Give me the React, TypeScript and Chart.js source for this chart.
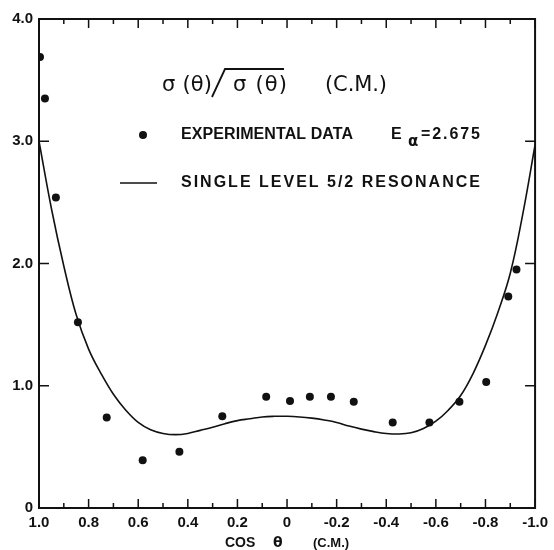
import React, { useEffect, useRef } from "react";
import { Chart, registerables } from "chart.js";

Chart.register(...registerables);

// Experimental data points (cos θ, σ(θ)/σ̄)
const expCos = [0.996, 0.976, 0.932, 0.843, 0.727, 0.582, 0.434, 0.261, 0.084, -0.012, -0.092, -0.177, -0.269, -0.426, -0.574, -0.695, -0.803, -0.892, -0.925];
const expVal = [3.69, 3.35, 2.54, 1.52, 0.74, 0.39, 0.46, 0.75, 0.91, 0.875, 0.91, 0.91, 0.87, 0.70, 0.70, 0.87, 1.03, 1.73, 1.95];

// Single level 5/2 resonance curve
const curveCos = [1.0, 0.95, 0.9, 0.85, 0.8, 0.75, 0.7, 0.65, 0.6, 0.55, 0.5, 0.45, 0.4, 0.35, 0.3, 0.25, 0.2, 0.15, 0.1, 0.05, 0.0, -0.05, -0.1, -0.15, -0.2, -0.25, -0.3, -0.35, -0.4, -0.45, -0.5, -0.55, -0.6, -0.65, -0.7, -0.75, -0.8, -0.85, -0.9, -0.95, -1.0];
const curveVal = [3.0, 2.45, 1.98, 1.58, 1.30, 1.10, 0.93, 0.80, 0.70, 0.64, 0.61, 0.60, 0.61, 0.635, 0.66, 0.69, 0.715, 0.73, 0.745, 0.75, 0.75, 0.745, 0.735, 0.72, 0.70, 0.67, 0.645, 0.625, 0.61, 0.605, 0.615, 0.65, 0.71, 0.80, 0.92, 1.10, 1.33, 1.60, 1.92, 2.40, 2.97];

const xMajorTicks = [1.0, 0.8, 0.6, 0.4, 0.2, 0.0, -0.2, -0.4, -0.6, -0.8, -1.0];
const xMinorTicks = [0.9, 0.7, 0.5, 0.3, 0.1, -0.1, -0.3, -0.5, -0.7, -0.9];
const yMajorTicks = [1, 2, 3];

const titleLeft = "σ (θ)";
const titleRight = "σ (θ)";
const titleUnit = "(C.M.)";
const legendExp = "EXPERIMENTAL DATA";
const legendEnergy = "=2.675";
const legendLine = "SINGLE LEVEL 5/2 RESONANCE";
const xTitle = ["COS", "θ", "(C.M.)"];

const INK = "#111";

function fitText(ctx: CanvasRenderingContext2D, text: string, x: number, y: number, targetW: number) {
  (ctx as any).letterSpacing = "0px";
  const w = ctx.measureText(text).width;
  const n = Math.max(text.length - 1, 1);
  const ls = (targetW - w) / n;
  (ctx as any).letterSpacing = ls.toFixed(2) + "px";
  ctx.fillText(text, x, y);
  (ctx as any).letterSpacing = "0px";
}

const decorPlugin = {
  id: "decor",
  beforeDraw(chart: any) {
    const ctx = chart.ctx;
    ctx.save();
    ctx.fillStyle = "#fff";
    ctx.fillRect(0, 0, chart.width, chart.height);
    ctx.restore();
  },
  afterDraw(chart: any) {
    const ctx: CanvasRenderingContext2D = chart.ctx;
    const { left, right, top, bottom } = chart.chartArea;
    const xs = chart.scales.x;
    const ys = chart.scales.y;
    ctx.save();
    ctx.strokeStyle = INK;
    ctx.fillStyle = INK;
    // frame
    ctx.lineWidth = 2;
    ctx.strokeRect(left, top, right - left, bottom - top);
    // x ticks, bottom and top, inward
    ctx.lineWidth = 1.5;
    const drawX = (v: number, len: number) => {
      const px = xs.getPixelForValue(v);
      ctx.beginPath();
      ctx.moveTo(px, bottom);
      ctx.lineTo(px, bottom - len);
      ctx.moveTo(px, top);
      ctx.lineTo(px, top + len);
      ctx.stroke();
    };
    xMajorTicks.forEach((v) => drawX(v, 9));
    xMinorTicks.forEach((v) => drawX(v, 5));
    yMajorTicks.forEach((v) => {
      const py = ys.getPixelForValue(v);
      ctx.beginPath();
      ctx.moveTo(left, py);
      ctx.lineTo(left + 10, py);
      ctx.moveTo(right, py);
      ctx.lineTo(right - 10, py);
      ctx.stroke();
    });

    // title
    ctx.textBaseline = "middle";
    ctx.textAlign = "left";
    ctx.font = "21px 'DejaVu Sans'";
    fitText(ctx, titleLeft, 162, 86, 50);
    fitText(ctx, titleRight, 233, 86, 54);
    fitText(ctx, titleUnit, 325, 86, 62);
    ctx.lineWidth = 1.8;
    ctx.beginPath();
    ctx.moveTo(212, 97);
    ctx.lineTo(225, 69);
    ctx.lineTo(284, 69);
    ctx.stroke();

    // legend
    ctx.beginPath();
    ctx.arc(143, 135, 4, 0, Math.PI * 2);
    ctx.fill();
    ctx.font = "bold 16px 'Liberation Sans'";
    fitText(ctx, legendExp, 181, 135, 172);
    ctx.fillText("E", 391, 135);
    ctx.font = "bold 15px 'DejaVu Sans'";
    ctx.fillText("α", 408, 142);
    ctx.font = "bold 16px 'Liberation Sans'";
    fitText(ctx, legendEnergy, 421, 135, 59);

    ctx.lineWidth = 1.5;
    ctx.beginPath();
    ctx.moveTo(120, 183);
    ctx.lineTo(157, 183);
    ctx.stroke();
    fitText(ctx, legendLine, 181, 183, 299);

    // x axis title
    ctx.font = "bold 14px 'Liberation Sans'";
    ctx.fillText(xTitle[0], 225, 543);
    ctx.font = "bold 14px 'DejaVu Sans'";
    ctx.fillText(xTitle[1], 273, 543);
    ctx.font = "bold 13px 'Liberation Sans'";
    ctx.fillText(xTitle[2], 313, 543);
    ctx.restore();
  },
};

export default function App() {
  const ref = useRef<HTMLCanvasElement | null>(null);
  useEffect(() => {
    if (!ref.current) return;
    const expData = expCos.map((c, i) => ({ x: c, y: expVal[i] }));
    const curveData = curveCos.map((c, i) => ({ x: c, y: curveVal[i] }));
    const chart = new Chart(ref.current, {
      type: "scatter",
      data: {
        datasets: [
          {
            label: "Single level 5/2 resonance",
            data: curveData,
            showLine: true,
            borderColor: INK,
            borderWidth: 1.6,
            pointRadius: 0,
            tension: 0.4,
            fill: false,
          },
          {
            label: "Experimental data",
            data: expData,
            showLine: false,
            backgroundColor: INK,
            borderColor: INK,
            pointRadius: 4,
            pointBorderWidth: 0,
          },
        ],
      },
      options: {
        animation: false,
        responsive: false,
        maintainAspectRatio: false,
        layout: { padding: { left: 0, top: 19, right: 16, bottom: 0 } },
        plugins: { legend: { display: false }, tooltip: { enabled: false } },
        scales: {
          x: {
            type: "linear",
            min: -1,
            max: 1,
            reverse: true,
            grid: { display: false, drawTicks: false },
            border: { display: false },
            afterFit: (s: any) => {
              s.height = 42;
            },
            afterBuildTicks: (s: any) => {
              s.ticks = xMajorTicks.map((v) => ({ value: v }));
            },
            ticks: {
              padding: 6,
              color: INK,
              maxRotation: 0,
              autoSkip: false,
              font: { family: "'Liberation Sans'", weight: "bold", size: 15 },
              callback: (v: any) => (Math.abs(Number(v)) < 1e-9 ? "0" : Number(v).toFixed(1)),
            },
          },
          y: {
            type: "linear",
            min: 0,
            max: 4,
            grid: { display: false, drawTicks: false },
            border: { display: false },
            afterFit: (s: any) => {
              s.width = 39;
            },
            ticks: {
              stepSize: 1,
              padding: 6,
              color: INK,
              font: { family: "'Liberation Sans'", weight: "bold", size: 15 },
              callback: (v: any) => (Math.abs(Number(v)) < 1e-9 ? "0" : Number(v).toFixed(1)),
            },
          },
        },
      },
      plugins: [decorPlugin],
    });
    return () => chart.destroy();
  }, []);
  return (
    <div style={{ position: "absolute", left: 0, top: 0, width: 554, height: 550 }}>
      <canvas ref={ref} width={554} height={550} />
    </div>
  );
}
